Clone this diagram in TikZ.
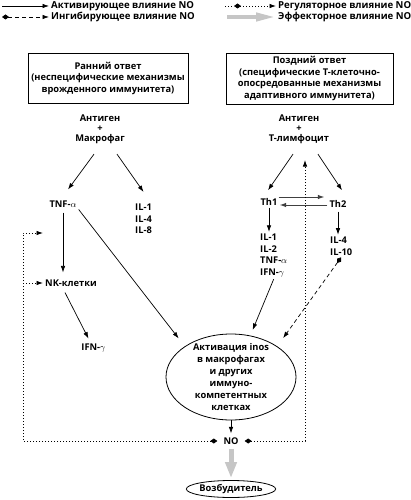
\documentclass[tikz,border=0pt]{standalone}
\usepackage{fontspec}
\setmainfont{Open Sans}
\usetikzlibrary{arrows.meta,positioning,calc,shapes.geometric}

\begin{document}
\begin{tikzpicture}[x=1pt,y=-1pt,>={Latex[length=6.5pt,width=4.5pt]},
  lbl/.style={font=\fontsize{9.3}{11.5}\selectfont\bfseries,align=center,inner sep=2pt},
  key/.style={lbl,font=\fontsize{9.6}{11.5}\selectfont\bfseries,anchor=west},
  act/.style={->,line width=0.7pt},
  dots/.style={line width=0.8pt,dash pattern=on 0.8pt off 2.2pt},
  inh/.style={{Diamond[length=7pt,width=5pt]}->,line width=0.7pt,dash pattern=on 4pt off 3pt},
  reg/.style={dots,{Diamond[length=7pt,width=5pt]}->},
  eff/.style={-{Triangle[length=16pt,width=11pt]},line width=5pt,gray!45},
  frame/.style={draw,line width=0.8pt,minimum width=160pt,minimum height=50pt},
  swap/.style={->,line width=1pt,black!75}]
  \useasboundingbox (0,0) rectangle (410,500);
  \node[key] (legact) at (49,6) {Активирующее влияние NO};
  \node[key] (leginh) at (49,17) {Ингибирующее влияние NO};
  \node[key] (legreg) at (276,6) {Регуляторное влияние NO};
  \node[key] (legeff) at (276,17) {Эффекторное влияние NO};
  \draw[act] (2,6) -- (legact.west);
  \draw[inh] (2,17) -- (leginh.west);
  \draw[dots] (225,6) -- (234,6);
  \draw[reg] (234,6) -- (legreg.west);
  \draw[eff,line width=4pt,-{Triangle[length=20pt,width=8pt]}] (227,17) -- (legeff.west);

  \node[lbl,frame] (early) at (108,78) {Ранний ответ\\(неспецифические механизмы\\врожденного иммунитета)};
  \node[lbl,frame,minimum width=167pt,minimum height=51pt] (late) at (309.5,78.5) {Поздний ответ\\(специфические Т-клеточно-\\опосредованные механизмы\\адаптивного иммунитета)};
  \node[lbl,font=\fontsize{9.3}{10}\selectfont\bfseries] (agm) at (100,129.5) {Антиген\\+\\Макрофаг};
  \node[lbl,font=\fontsize{9.3}{10}\selectfont\bfseries] (agt) at (299,129.5) {Антиген\\+\\Т-лимфоцит};

  \node[lbl] (tnf) at (63,204) {TNF-$\alpha$};
  \node[lbl,align=left,anchor=west] (ilm) at (133,219) {IL-1\\IL-4\\IL-8};
  \node[lbl] (th1) at (269,202) {Th1};
  \node[lbl] (th2) at (338,204) {Th2};
  \node[lbl,align=left,anchor=west] (cyt1) at (258,255.5) {IL-1\\IL-2\\TNF-$\alpha$\\IFN-$\gamma$};
  \node[lbl,align=left,anchor=west] (cyt2) at (328,246) {IL-4\\IL-10};
  \node[lbl] (nk) at (71,283) {NK-клетки};
  \node[lbl] (ifnm) at (93.5,348) {IFN-$\gamma$};
  \node[lbl,font=\fontsize{9.3}{12}\selectfont\bfseries,draw,ellipse,line width=0.8pt,
    minimum width=130pt,minimum height=86pt,inner xsep=0pt,inner ysep=-5pt] (inos) at (231,377)
    {Активация inos\\в макрофагах\\и других\\иммуно-\\компетентных\\клетках};
  \node[lbl,inner xsep=6pt,inner ysep=4pt] (no) at (231,441) {NO};
  \node[lbl,draw,ellipse,line width=0.8pt,minimum width=88pt,minimum height=17pt,inner sep=0pt] (pat) at (231,489) {Возбудитель};
  \coordinate (fbtop) at (23,233);
  \coordinate (fbtip) at (43,233);
  \coordinate (regtip) at (305,160);

  \draw[act] ($(agm.south)+(-6,8)$) -- ($(tnf.north)+(5,-9)$);
  \draw[act] ($(agm.south)+(17,8)$) -- ($(ilm.north)+(0,-10)$);
  \draw[act] ($(agt.south)+(-6,8)$) -- ($(th1.north)+(-1,-6)$);
  \draw[act] ($(agt.south)+(19,8)$) -- ($(th2.north)+(4,-8)$);
  \draw[swap] ($(th1.east)+(-1,-5)$) -- ($(th2.west)+(-3,-7)$);
  \draw[swap] ($(th2.west)+(0,1)$) -- ($(th1.east)+(0,3)$);
  \draw[act] (th1.south) -- (th1.south |- cyt1.north);
  \draw[act,shorten <=2pt] (th2.south) -- (th2.south |- cyt2.north);
  \draw[act,shorten <=3pt,shorten >=5pt] (tnf.south) -- (tnf.south |- nk.north);
  \draw[act,shorten >=10pt] (tnf.south east) -- (inos.north west);
  \draw[act] ($(nk.south)+(-6,4)$) -- ($(ifnm.north)+(-5,-3)$);
  \draw[act,shorten >=6pt] (cyt1.south) -- (inos.65);
  \draw[inh,shorten >=10pt] (cyt2.south) -- (inos.north east);
  \draw[act] (inos) -- (no);
  \draw[eff,shorten >=2pt] (no) -- (pat);
  \draw[reg] (no.west) -| (fbtop) -- (fbtip);
  \draw[dots,->] (fbtop |- nk) -- (nk.west);
  \draw[reg] (no.east) -| (regtip);
\end{tikzpicture}
\end{document}
